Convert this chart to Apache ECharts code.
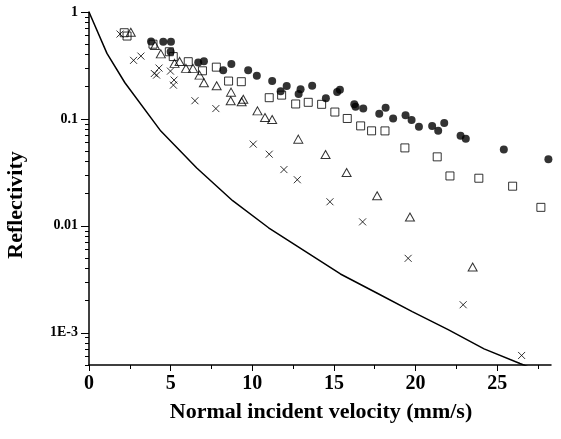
<!DOCTYPE html>
<html>
<head>
<meta charset="utf-8">
<script src="https://cdn.jsdelivr.net/npm/echarts@6/dist/echarts.min.js"></script>
<style>
html,body{margin:0;padding:0;background:#fff;}
#c{width:561px;height:439px;}
</style>
</head>
<body>
<div id="c"></div>
<script>
// ---- data ----
const curveX = [0, 1.1, 2.2, 4.4, 6.6, 8.8, 11, 13.2, 15.4, 17.6, 19.8, 22, 24.2, 26.4, 28.6];
const curveY = [1, 0.41, 0.218, 0.077, 0.0348, 0.0172, 0.0096, 0.00584, 0.00355, 0.00237, 0.00158, 0.00107, 0.000708, 0.000516, 0.000378];

const circlesX = [3.80,4.55,5.02,5.00,6.69,7.04,8.22,8.72,9.75,10.28,11.22,11.74,12.11,12.84,12.96,13.67,14.51,15.20,15.37,16.25,16.33,16.80,17.78,18.17,18.63,19.39,19.76,20.21,21.02,21.39,21.76,22.76,23.08,25.41,28.14];
const circlesY = [0.53,0.527,0.527,0.425,0.337,0.346,0.286,0.327,0.286,0.253,0.226,0.182,0.203,0.171,0.190,0.204,0.156,0.179,0.187,0.137,0.130,0.125,0.112,0.127,0.101,0.108,0.0975,0.0843,0.0861,0.0774,0.0914,0.0695,0.0651,0.0518,0.042];

const squaresX = [2.16,2.33,3.92,4.92,5.16,6.08,6.95,7.80,8.55,9.33,11.04,11.80,12.66,13.43,14.25,15.06,15.82,16.64,17.31,18.13,19.35,21.33,22.11,23.88,25.95,27.68];
const squaresY = [0.640,0.596,0.50,0.425,0.383,0.343,0.282,0.305,0.226,0.223,0.158,0.167,0.138,0.143,0.137,0.116,0.101,0.0861,0.0774,0.0773,0.0536,0.0442,0.0293,0.0279,0.0235,0.0149];

const trianglesX = [2.56,4.04,4.40,5.24,5.55,5.94,6.37,6.77,7.04,7.82,8.70,8.68,9.35,9.45,10.32,10.78,11.22,12.82,14.49,15.78,17.65,19.66,23.50];
const trianglesY = [0.647,0.486,0.406,0.331,0.345,0.297,0.297,0.257,0.218,0.204,0.178,0.148,0.145,0.153,0.119,0.103,0.0989,0.0647,0.0465,0.0316,0.0191,0.0121,0.00412];

const crossesX = [1.90,2.73,3.18,4.00,4.14,4.29,4.99,5.21,5.17,6.49,7.77,10.06,11.04,11.94,12.76,14.76,16.76,19.55,22.92,26.50];
const crossesY = [0.622,0.353,0.387,0.266,0.257,0.299,0.280,0.231,0.207,0.148,0.125,0.0581,0.0468,0.0336,0.0270,0.0168,0.0109,0.00497,0.00183,0.000614];

const xMajorTicks = [0, 5, 10, 15, 20, 25];
const xMinorTicks = [2.5, 7.5, 12.5, 17.5, 22.5, 27.5];
const yMajorTicks = [0.001, 0.01, 0.1, 1];
const yMajorLabels = ['1E-3', '0.01', '0.1', '1'];

// ---- helpers ----
const zip = (xs, ys) => xs.map((x, i) => [x, ys[i]]);
const yMinorTicks = [];
[0.0001, 0.001, 0.01, 0.1].forEach(d => {
  for (let k = 2; k <= 9; k++) {
    const v = +(k * d).toPrecision(6);
    if (v >= 0.0005 - 1e-12 && v <= 1) yMinorTicks.push(v);
  }
});

const FONT = 'Liberation Serif';
const X_MIN = 0, X_MAX = 28.3, Y_MIN = 0.0005, Y_MAX = 1;
const TICK = {color: '#000', width: 1};

const chart = echarts.init(document.getElementById('c'), null, {renderer: 'canvas'});
const hollow = {color: 'rgba(0,0,0,0)', borderColor: '#000', borderWidth: 1};

chart.setOption({
  backgroundColor: '#fff',
  animation: false,
  grid: {left: 89, right: 10, top: 12, bottom: 74, containLabel: false},
  xAxis: [{
    type: 'value', min: X_MIN, max: X_MAX,
    axisLine: {show: true, onZero: false, lineStyle: {color: '#000', width: 1.5}},
    axisTick: {show: true, inside: false, length: 6, customValues: xMajorTicks, lineStyle: TICK},
    axisLabel: {show: true, customValues: xMajorTicks, margin: 9, color: '#000', fontFamily: FONT, fontWeight: 'bold', fontSize: 20},
    splitLine: {show: false}
  }, {
    type: 'value', min: X_MIN, max: X_MAX, position: 'bottom',
    axisLine: {show: false},
    axisTick: {show: true, inside: false, length: 4, customValues: xMinorTicks, lineStyle: TICK},
    axisLabel: {show: false},
    splitLine: {show: false}
  }],
  yAxis: [{
    type: 'log', logBase: 10, min: Y_MIN, max: Y_MAX,
    axisLine: {show: true, onZero: false, lineStyle: {color: '#000', width: 1.5}},
    axisTick: {show: true, inside: false, length: 8, customValues: yMajorTicks, lineStyle: TICK},
    axisLabel: {
      show: true, customValues: yMajorTicks, margin: 11, color: '#000',
      fontFamily: FONT, fontWeight: 'bold', fontSize: 14,
      formatter: v => {
        for (let i = 0; i < yMajorTicks.length; i++) {
          if (Math.abs(Math.log10(v) - Math.log10(yMajorTicks[i])) < 1e-6) return yMajorLabels[i];
        }
        return '';
      }
    },
    splitLine: {show: false}
  }, {
    type: 'log', logBase: 10, min: Y_MIN, max: Y_MAX, position: 'left',
    axisLine: {show: false},
    axisTick: {show: true, inside: false, length: 4, customValues: yMinorTicks, lineStyle: TICK},
    axisLabel: {show: false},
    splitLine: {show: false}
  }],
  graphic: [{
    type: 'text', x: 16, y: 205, rotation: Math.PI / 2,
    style: {text: 'Reflectivity', fill: '#000', font: 'bold 22px "Liberation Serif"', textAlign: 'center', textVerticalAlign: 'middle'}
  }, {
    type: 'text', x: 321, y: 412,
    style: {text: 'Normal incident velocity (mm/s)', fill: '#000', font: 'bold 22px "Liberation Serif"', textAlign: 'center', textVerticalAlign: 'middle'}
  }],
  series: [{
    type: 'line', name: 'model', data: zip(curveX, curveY), showSymbol: false, symbol: 'none',
    lineStyle: {color: '#000', width: 1.5}, clip: true, z: 2
  }, {
    type: 'scatter', name: 'cross', data: zip(crossesX, crossesY),
    symbol: 'path://M0,0L10,10M10,0L0,10', symbolSize: 7,
    itemStyle: {color: 'rgba(0,0,0,0)', borderColor: '#000', borderWidth: 1}, z: 3
  }, {
    type: 'scatter', name: 'triangle', data: zip(trianglesX, trianglesY),
    symbol: 'triangle', symbolSize: [9, 8], itemStyle: hollow, z: 3
  }, {
    type: 'scatter', name: 'square', data: zip(squaresX, squaresY),
    symbol: 'rect', symbolSize: 8, itemStyle: hollow, z: 3
  }, {
    type: 'scatter', name: 'circle', data: zip(circlesX, circlesY),
    symbol: 'circle', symbolSize: 8, itemStyle: {color: '#000'}, z: 4
  }]
});
</script>
</body>
</html>
